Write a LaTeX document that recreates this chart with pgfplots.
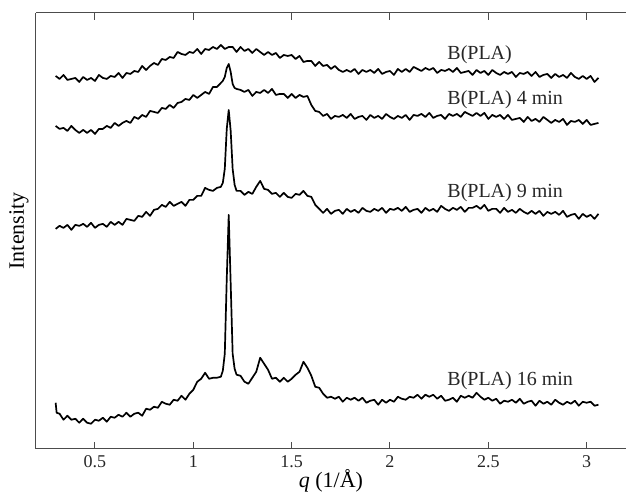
\documentclass[border=0pt]{standalone}
\usepackage{fontspec}
\setmainfont{Liberation Serif}
\usepackage{pgfplots}
\pgfplotsset{compat=1.18}

\begin{document}
\begin{tikzpicture}
% page = 626 x 493 px at 0.5pt per px; axis box 36..626 x 13..449 px
\useasboundingbox (-18pt,-22pt) rectangle (295.2pt,224.5pt);
\begin{axis}[
    scale only axis,
    width=295.2pt, height=218pt,
    xmin=0.2, xmax=3.2, ymin=0, ymax=436,
    axis x line*=box, axis y line*=left,
    axis line style={draw=black!70, line width=0.5pt},
    xtick={0.5,1,1.5,2,2.5,3},
    xticklabels={0.5,1,1.5,2,2.5,3},
    ytick=\empty,
    major tick length=3.3pt,
    tick style={draw=black!70, line width=0.5pt},
    tick align=inside,
    ticklabel style={font=\fontsize{9}{10}\selectfont, text=black!85},
    /pgf/number format/assume math mode=true,
    xlabel={\textit{q} (1/Å)},
    ylabel={Intensity},
    xlabel style={at={(axis description cs:0.5,0)}, anchor=center, yshift=-16pt, font=\fontsize{11}{12}\selectfont},
    ylabel style={at={(axis description cs:-0.0288,0.5)}, anchor=center, font=\fontsize{11}{12}\selectfont},
    clip=false,
    curve/.style={black, no markers, line width=0.85pt, line join=round},
]
% B(PLA)
\addplot[curve] coordinates {
(0.30,373)(0.32,370)(0.34,374)(0.36,369)(0.38,370)(0.40,371)(0.42,367)(0.44,372)(0.46,369)(0.48,371)
(0.50,368)(0.52,374)(0.54,371)(0.56,370)(0.58,373)(0.60,372)(0.62,376)(0.64,371)(0.66,376)(0.68,375)
(0.70,378)(0.72,377)(0.74,383)(0.76,379)(0.78,383)(0.80,386)(0.82,384)(0.84,390)(0.86,389)(0.88,392)
(0.90,391)(0.92,397)(0.94,395)(0.96,394)(0.98,397)(1.00,396)(1.02,400)(1.04,395)(1.06,400)(1.08,399)
(1.10,402)(1.12,400)(1.14,404)(1.16,400)(1.18,402)(1.20,402)(1.22,397)(1.24,402)(1.26,398)(1.28,400)
(1.30,396)(1.32,400)(1.34,397)(1.36,394)(1.38,397)(1.40,394)(1.42,396)(1.44,391)(1.46,394)(1.48,393)
(1.50,394)(1.52,390)(1.54,393)(1.56,387)(1.58,388)(1.60,388)(1.62,383)(1.64,387)(1.66,383)(1.68,384)
(1.70,380)(1.72,383)(1.74,379)(1.76,377)(1.78,379)(1.80,377)(1.82,380)(1.84,375)(1.86,379)(1.88,377)
(1.90,379)(1.92,376)(1.94,380)(1.96,375)(1.98,377)(2.00,378)(2.02,374)(2.04,380)(2.06,377)(2.08,380)
(2.10,377)(2.12,382)(2.14,380)(2.16,378)(2.18,381)(2.20,379)(2.22,381)(2.24,376)(2.26,379)(2.28,378)
(2.30,380)(2.32,377)(2.34,381)(2.36,376)(2.38,377)(2.40,378)(2.42,374)(2.44,379)(2.46,376)(2.48,378)
(2.50,374)(2.52,379)(2.54,376)(2.56,374)(2.58,377)(2.60,375)(2.62,377)(2.64,372)(2.66,376)(2.68,375)
(2.70,377)(2.72,373)(2.74,377)(2.76,372)(2.78,374)(2.80,375)(2.82,371)(2.84,375)(2.86,372)(2.88,374)
(2.90,371)(2.92,376)(2.94,372)(2.96,370)(2.98,373)(3.00,370)(3.02,373)(3.04,367)(3.06,371)
};
% B(PLA) 4 min
\addplot[curve] coordinates {
(0.30,323)(0.32,320)(0.34,321)(0.36,318)(0.38,323)(0.40,319)(0.42,316)(0.44,319)(0.46,316)(0.48,319)
(0.50,315)(0.52,320)(0.54,320)(0.56,323)(0.58,321)(0.60,326)(0.62,323)(0.64,326)(0.66,328)(0.68,326)
(0.70,332)(0.72,330)(0.74,334)(0.76,332)(0.78,338)(0.80,337)(0.82,336)(0.84,341)(0.86,340)(0.88,344)
(0.90,341)(0.92,346)(0.94,347)(0.96,350)(0.98,349)(1.00,354)(1.02,351)(1.04,354)(1.06,357)(1.08,355)
(1.10,362)(1.12,362)(1.14,366)(1.15,368)(1.16,372)(1.17,381)(1.18,385)(1.19,377)(1.20,365)(1.21,361)
(1.22,360)(1.24,359)(1.26,357)(1.28,359)(1.30,353)(1.32,357)(1.34,356)(1.36,359)(1.38,356)(1.40,360)
(1.42,354)(1.44,355)(1.46,355)(1.48,351)(1.50,355)(1.52,351)(1.54,354)(1.56,352)(1.58,353)(1.60,344)
(1.62,338)(1.64,337)(1.66,333)(1.68,335)(1.70,330)(1.72,333)(1.74,332)(1.76,334)(1.78,331)(1.80,335)
(1.82,330)(1.84,332)(1.86,333)(1.88,329)(1.90,334)(1.92,331)(1.94,333)(1.96,330)(1.98,335)(2.00,332)
(2.02,330)(2.04,333)(2.06,331)(2.08,334)(2.10,329)(2.12,334)(2.14,333)(2.16,335)(2.18,332)(2.20,336)
(2.22,331)(2.24,333)(2.26,334)(2.28,330)(2.30,335)(2.32,333)(2.34,335)(2.36,332)(2.38,337)(2.40,335)
(2.42,333)(2.44,336)(2.46,333)(2.48,336)(2.50,330)(2.52,334)(2.54,332)(2.56,334)(2.58,330)(2.60,334)
(2.62,329)(2.64,330)(2.66,331)(2.68,327)(2.70,332)(2.72,328)(2.74,330)(2.76,327)(2.78,332)(2.80,329)
(2.82,326)(2.84,329)(2.86,327)(2.88,330)(2.90,324)(2.92,328)(2.94,327)(2.96,329)(2.98,325)(3.00,329)
(3.02,324)(3.04,325)(3.06,326)
};
% B(PLA) 9 min
\addplot[curve] coordinates {
(0.30,220)(0.32,223)(0.34,221)(0.36,224)(0.38,219)(0.40,224)(0.42,223)(0.44,225)(0.46,222)(0.48,226)
(0.50,221)(0.52,224)(0.54,225)(0.56,222)(0.58,227)(0.60,224)(0.62,227)(0.64,224)(0.66,230)(0.68,229)
(0.70,228)(0.72,233)(0.74,232)(0.76,237)(0.78,233)(0.80,239)(0.82,240)(0.84,244)(0.86,242)(0.88,247)
(0.90,243)(0.92,245)(0.94,247)(0.96,243)(0.98,249)(1.00,249)(1.02,253)(1.04,253)(1.06,261)(1.08,259)
(1.10,258)(1.12,261)(1.14,262)(1.15,266)(1.16,280)(1.17,320)(1.18,339)(1.19,318)(1.20,280)(1.21,264)
(1.22,258)(1.24,258)(1.26,254)(1.28,257)(1.30,255)(1.32,262)(1.34,268)(1.36,260)(1.38,259)(1.40,255)
(1.42,256)(1.44,252)(1.46,256)(1.48,252)(1.50,251)(1.52,255)(1.54,254)(1.56,258)(1.58,253)(1.60,252)
(1.62,244)(1.64,240)(1.66,236)(1.68,240)(1.70,235)(1.72,238)(1.74,239)(1.76,235)(1.78,240)(1.80,237)
(1.82,239)(1.84,236)(1.86,241)(1.88,238)(1.90,237)(1.92,240)(1.94,238)(1.96,241)(1.98,236)(2.00,240)
(2.02,239)(2.04,241)(2.06,238)(2.08,242)(2.10,237)(2.12,239)(2.14,240)(2.16,236)(2.18,241)(2.20,238)
(2.22,240)(2.24,237)(2.26,243)(2.28,240)(2.30,238)(2.32,241)(2.34,239)(2.36,242)(2.38,237)(2.40,241)
(2.42,241)(2.44,243)(2.46,240)(2.48,244)(2.50,238)(2.52,240)(2.54,240)(2.56,236)(2.58,241)(2.60,237)
(2.62,239)(2.64,236)(2.66,240)(2.68,237)(2.70,235)(2.72,238)(2.74,235)(2.76,238)(2.78,233)(2.80,237)
(2.82,235)(2.84,237)(2.86,234)(2.88,238)(2.90,232)(2.92,234)(2.94,235)(2.96,230)(2.98,235)(3.00,232)
(3.02,234)(3.04,230)(3.06,235)
};
% B(PLA) 16 min
\addplot[curve] coordinates {
(0.30,46)(0.305,36)(0.32,35)(0.34,29)(0.36,33)(0.38,29)(0.40,30)(0.42,26)(0.44,30)(0.46,26)(0.48,25)
(0.50,29)(0.52,28)(0.54,31)(0.56,27)(0.58,32)(0.60,31)(0.62,34)(0.64,32)(0.66,36)(0.68,32)
(0.70,35)(0.72,36)(0.74,33)(0.76,40)(0.78,39)(0.80,42)(0.82,41)(0.84,47)(0.86,45)(0.88,44)
(0.90,49)(0.92,48)(0.94,53)(0.96,49)(0.98,55)(1.00,59)(1.02,67)(1.04,70)(1.06,76)(1.08,70)
(1.10,71)(1.12,71)(1.14,72)(1.15,78)(1.16,95)(1.17,170)(1.18,234)(1.19,165)(1.20,95)(1.21,80)
(1.22,74)(1.24,73)(1.26,67)(1.28,65)(1.30,71)(1.32,77)(1.34,91)(1.36,85)(1.38,79)(1.40,70)
(1.42,71)(1.44,67)(1.46,71)(1.48,67)(1.50,70)(1.52,74)(1.54,77)(1.56,87)(1.58,81)(1.60,73)
(1.62,62)(1.64,61)(1.66,55)(1.68,51)(1.70,52)(1.72,50)(1.74,52)(1.76,47)(1.78,51)(1.80,49)
(1.82,51)(1.84,48)(1.86,51)(1.88,46)(1.90,48)(1.92,49)(1.94,44)(1.96,49)(1.98,46)(2.00,49)
(2.02,47)(2.04,52)(2.06,50)(2.08,49)(2.10,52)(2.12,51)(2.14,54)(2.16,50)(2.18,54)(2.20,52)
(2.22,54)(2.24,50)(2.26,53)(2.28,48)(2.30,49)(2.32,51)(2.34,47)(2.36,53)(2.38,51)(2.40,53)
(2.42,51)(2.44,56)(2.46,52)(2.48,49)(2.50,51)(2.52,48)(2.54,50)(2.56,45)(2.58,48)(2.60,47)
(2.62,49)(2.64,46)(2.66,50)(2.68,45)(2.70,47)(2.72,48)(2.74,43)(2.76,48)(2.78,45)(2.80,47)
(2.82,44)(2.84,49)(2.86,46)(2.88,44)(2.90,47)(2.92,45)(2.94,48)(2.96,43)(2.98,47)(3.00,46)
(3.02,47)(3.04,43)(3.06,44)
};
\node[anchor=west, font=\fontsize{10}{12}\selectfont, text=black!85, inner sep=0pt] at (axis cs:2.29,394) {B(PLA)};
\node[anchor=west, font=\fontsize{10}{12}\selectfont, text=black!85, inner sep=0pt] at (axis cs:2.29,349) {B(PLA) 4 min};
\node[anchor=west, font=\fontsize{10}{12}\selectfont, text=black!85, inner sep=0pt] at (axis cs:2.29,256) {B(PLA) 9 min};
\node[anchor=west, font=\fontsize{10}{12}\selectfont, text=black!85, inner sep=0pt] at (axis cs:2.29,68) {B(PLA) 16 min};
\end{axis}
\end{tikzpicture}
\end{document}
